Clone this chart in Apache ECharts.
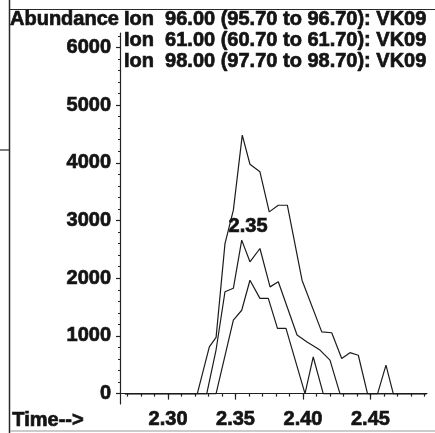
<!DOCTYPE html>
<html>
<head>
<meta charset="utf-8">
<script src="https://cdn.jsdelivr.net/npm/echarts@6/dist/echarts.min.js"></script>
<style>
html,body{margin:0;padding:0;background:#fff;}
#chart{width:435px;height:433px;}
</style>
</head>
<body>
<div id="chart"></div>
<script>
// ---- data ----
var seriesNames = ['Ion 96.00', 'Ion 61.00', 'Ion 98.00'];
var titleLines = [
  'Ion  96.00 (95.70 to 96.70): VK09',
  'Ion  61.00 (60.70 to 61.70): VK09',
  'Ion  98.00 (97.70 to 98.70): VK09'
];
var timesA = [2.268, 2.3217, 2.3306, 2.3356, 2.3422, 2.3484, 2.3550, 2.3607, 2.3681, 2.3750, 2.3817, 2.3884, 2.3993, 2.4139, 2.4213, 2.4287, 2.4348, 2.4410, 2.4478, 2.4553, 2.4615, 2.4669, 2.4915];
var abundA = [0, 0, 810, 975, 2600, 3180, 4480, 3975, 3845, 3150, 3265, 3265, 1965, 1070, 1055, 610, 710, 665, 0, 0, 495, 0, 0];
var timesB = [2.268, 2.3287, 2.3356, 2.3422, 2.3484, 2.3546, 2.3607, 2.3681, 2.3756, 2.3817, 2.3956, 2.4030, 2.4126, 2.4200, 2.4274, 2.4915];
var abundB = [0, 0, 760, 1765, 1825, 2660, 2285, 2515, 1850, 1940, 1015, 895, 755, 580, 0, 0];
var timesC = [2.268, 2.3356, 2.3484, 2.3546, 2.3607, 2.3681, 2.3743, 2.3811, 2.3874, 2.4015, 2.4076, 2.4150, 2.4915];
var abundC = [0, 0, 1275, 1445, 1965, 1650, 1650, 1130, 1130, 0, 635, 0, 0];
var peakLabel = ['2.35'];
var peakLabelPos = [2.3593, 2900];

var xLabels = [2.30, 2.35, 2.40, 2.45];
var xMinorTicks = [2.27, 2.28, 2.29, 2.30, 2.31, 2.32, 2.33, 2.34, 2.35, 2.36, 2.37, 2.38, 2.39, 2.40, 2.41, 2.42, 2.43, 2.44, 2.45, 2.46, 2.47, 2.48, 2.49];
var yLabels = [0, 1000, 2000, 3000, 4000, 5000, 6000];
var yMinorTicks = [0, 200, 400, 600, 800, 1000, 1200, 1400, 1600, 1800, 2000, 2200, 2400, 2600, 2800, 3000, 3200, 3400, 3600, 3800, 4000, 4200, 4400, 4600, 4800, 5000, 5200, 5400, 5600, 5800, 6000, 6200];

function zip(t, v) { return t.map(function (x, i) { return [x, v[i]]; }); }

var FONT = '"Liberation Sans", Arial, sans-serif';
var INK = '#141414';
var BW = 0.7;
var xMin = 2.2644, xMax = 2.4919, yMin = -180, yMax = 6250;

var chart = echarts.init(document.getElementById('chart'), null, {renderer: 'canvas'});
var lineStyle = {color: '#1c1c1c', width: 1.2};
function ts() {
  return {fontFamily: FONT, fontSize: 20, fontWeight: 'bold', color: INK, textBorderColor: INK, textBorderWidth: BW};
}

chart.setOption({
  animation: false,
  backgroundColor: '#fff',
  grid: {left: 120, right: 8, top: 33, bottom: 29, containLabel: false},
  title: [
    {text: 'Abundance', left: 10, top: 9, textStyle: ts(), padding: 0},
    {text: titleLines[0], left: 124, top: 9, textStyle: ts(), padding: 0},
    {text: titleLines[1], left: 124, top: 30, textStyle: ts(), padding: 0},
    {text: titleLines[2], left: 124, top: 51, textStyle: ts(), padding: 0}
  ],
  xAxis: [
    {
      type: 'value', min: xMin, max: xMax, position: 'bottom',
      axisLine: {show: true, lineStyle: {color: '#222', width: 1.2}},
      axisTick: {show: true, customValues: xMinorTicks, length: 3, lineStyle: {color: '#222', width: 1.2}},
      axisLabel: {show: false},
      splitLine: {show: false}
    },
    {
      type: 'value', min: xMin, max: xMax, position: 'bottom',
      axisLine: {show: false},
      axisTick: {show: true, customValues: xLabels, length: 6, lineStyle: {color: '#222', width: 1.2}},
      axisLabel: Object.assign({show: true, customValues: xLabels, margin: 5,
        formatter: function (v) { return v.toFixed(2); }}, ts()),
      splitLine: {show: false}
    }
  ],
  yAxis: [
    {
      type: 'value', min: yMin, max: yMax, position: 'left',
      axisLine: {show: true, lineStyle: {color: '#222', width: 1.2}},
      axisTick: {show: true, customValues: yMinorTicks, length: 2, lineStyle: {color: '#222', width: 1.2}},
      axisLabel: {show: false},
      splitLine: {show: false}
    },
    {
      type: 'value', min: yMin, max: yMax, position: 'left',
      axisLine: {show: false},
      axisTick: {show: true, customValues: yLabels, length: 4, lineStyle: {color: '#222', width: 1.2}},
      axisLabel: Object.assign({show: true, customValues: yLabels, margin: 9,
        formatter: function (v) { return String(v); }}, ts()),
      splitLine: {show: false}
    }
  ],
  series: [
    {
      name: seriesNames[0], type: 'line', data: zip(timesA, abundA), showSymbol: false, symbol: 'none',
      lineStyle: lineStyle, z: 3,
      markPoint: {
        symbol: 'rect', symbolSize: [1, 1], itemStyle: {color: 'rgba(0,0,0,0)'},
        label: Object.assign({show: true, position: 'inside', formatter: function () { return peakLabel[0]; }}, ts()),
        data: [{coord: peakLabelPos}]
      }
    },
    {name: seriesNames[1], type: 'line', data: zip(timesB, abundB), showSymbol: false, symbol: 'none', lineStyle: lineStyle, z: 3},
    {name: seriesNames[2], type: 'line', data: zip(timesC, abundC), showSymbol: false, symbol: 'none', lineStyle: lineStyle, z: 3}
  ],
  graphic: [
    {type: 'line', shape: {x1: 9.5, y1: 0, x2: 9.5, y2: 433}, style: {stroke: '#2a2a2a', lineWidth: 1.5}},
    {type: 'line', shape: {x1: 10, y1: 9.5, x2: 435, y2: 9.5}, style: {stroke: '#2a2a2a', lineWidth: 1.2}},
    {type: 'line', shape: {x1: 0, y1: 150, x2: 10, y2: 150}, style: {stroke: '#2a2a2a', lineWidth: 1.2}},
    {type: 'line', shape: {x1: 10, y1: 431, x2: 435, y2: 431}, style: {stroke: '#999', lineWidth: 1.2}},
    {type: 'text', left: 12, top: 410, style: {text: 'Time-->', font: 'bold 20px ' + FONT, fill: INK, stroke: INK, lineWidth: BW}}
  ]
});
</script>
</body>
</html>
